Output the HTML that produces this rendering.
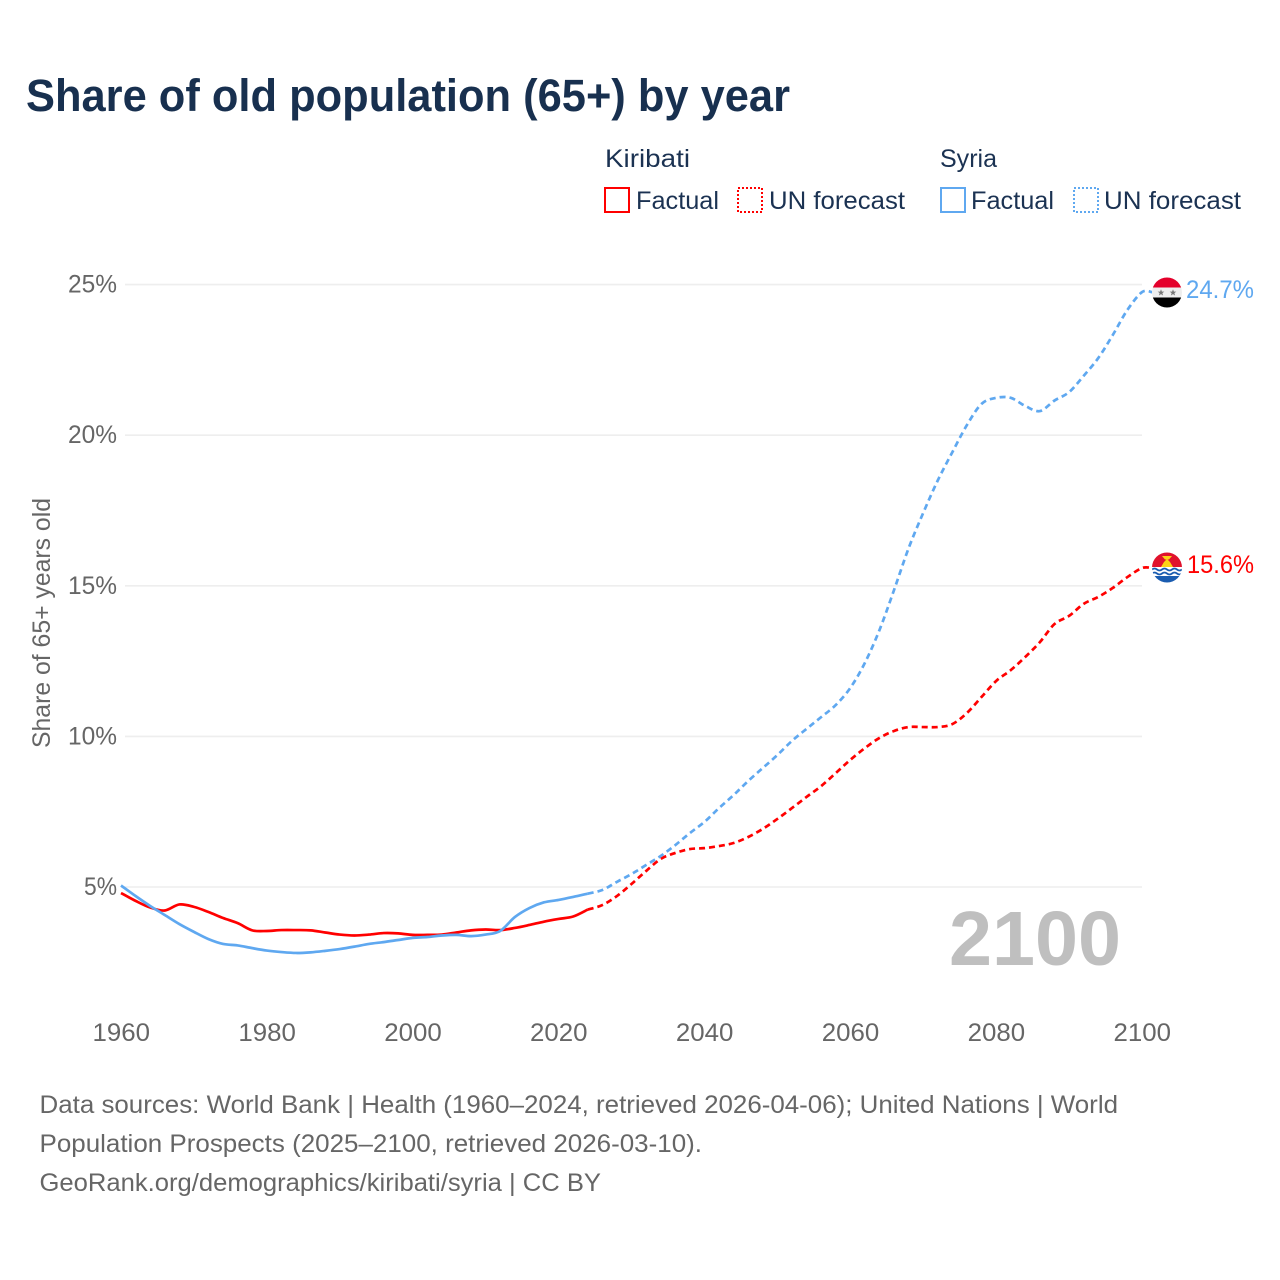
<!DOCTYPE html>
<html lang="en">
<head>
<meta charset="utf-8">
<title>Share of old population (65+) by year</title>
<style>
html,body{margin:0;padding:0;background:#fff;width:1280px;height:1280px;overflow:hidden}
svg{display:block}
text{font-family:"Liberation Sans",sans-serif}
.leg{font-size:25px;fill:#1b3252}
.foot{font-size:25px;fill:#666}
</style>
</head>
<body>
<svg id="chart" width="1280" height="1280" viewBox="0 0 1280 1280" xmlns="http://www.w3.org/2000/svg">
<defs>
<clipPath id="clip-syria"><circle cx="1167" cy="292.5" r="15"/></clipPath>
<clipPath id="clip-kiribati"><circle cx="1167" cy="567.5" r="15"/></clipPath>
</defs>
<text x="26" y="111" font-size="45" font-weight="700" fill="#18304f" textLength="764" lengthAdjust="spacingAndGlyphs">Share of old population (65+) by year</text>

<g>
<text class="leg" x="605" y="167" textLength="85" lengthAdjust="spacingAndGlyphs">Kiribati</text>
<rect x="605" y="188" width="24" height="24" fill="none" stroke="#ff0000" stroke-width="2"/>
<text class="leg" x="636" y="209" textLength="83" lengthAdjust="spacingAndGlyphs">Factual</text>
<rect x="738" y="188" width="24" height="24" fill="none" stroke="#ff0000" stroke-width="2" stroke-dasharray="2 2"/>
<text class="leg" x="769" y="209" textLength="136" lengthAdjust="spacingAndGlyphs">UN forecast</text>
<text class="leg" x="940" y="167" textLength="57" lengthAdjust="spacingAndGlyphs">Syria</text>
<rect x="941" y="188" width="24" height="24" fill="none" stroke="#5fa8f0" stroke-width="2"/>
<text class="leg" x="971" y="209" textLength="83" lengthAdjust="spacingAndGlyphs">Factual</text>
<rect x="1074" y="188" width="24" height="24" fill="none" stroke="#5fa8f0" stroke-width="2" stroke-dasharray="2 2"/>
<text class="leg" x="1104" y="209" textLength="137" lengthAdjust="spacingAndGlyphs">UN forecast</text>
</g>

<text transform="translate(50,748) rotate(-90)" font-size="25" fill="#666" textLength="250" lengthAdjust="spacingAndGlyphs">Share of 65+ years old</text>

<g id="grid"></g>
<g id="yticks"></g>
<g id="xticks"></g>

<text id="year-watermark" x="949" y="965" font-size="77" font-weight="700" fill="#bfbfbf" textLength="172" lengthAdjust="spacingAndGlyphs">2100</text>

<g id="series"></g>

<g clip-path="url(#clip-syria)">
<rect x="1152" y="277.5" width="30" height="10" fill="#e4002b"/>
<rect x="1152" y="287.5" width="30" height="10" fill="#eeeeee"/>
<rect x="1152" y="297.5" width="30" height="10" fill="#000000"/>
<polygon points="1161,289.3 1161.9,291.6 1164.3,291.6 1162.4,293.1 1163.1,295.5 1161,294.1 1158.9,295.5 1159.6,293.1 1157.7,291.6 1160.1,291.6" fill="#777"/>
<polygon points="1173,289.3 1173.9,291.6 1176.3,291.6 1174.4,293.1 1175.1,295.5 1173,294.1 1170.9,295.5 1171.6,293.1 1169.7,291.6 1172.1,291.6" fill="#777"/>
</g>
<g clip-path="url(#clip-kiribati)">
<rect x="1152" y="552.5" width="30" height="15" fill="#e0122c"/>
<polygon points="1161,567 1164,562 1167,559 1170,562 1173,567" fill="#fcd116"/>
<polygon points="1162,556 1172,556 1169,559.5 1165,559.5" fill="#fcd116"/>
<rect x="1152" y="567" width="30" height="16" fill="#ffffff"/>
<path d="M1152 569.5q2.5 -2 5 0t5 0t5 0t5 0t5 0t5 0" fill="none" stroke="#1a5cb0" stroke-width="1.8"/>
<path d="M1152 573.5q2.5 -2 5 0t5 0t5 0t5 0t5 0t5 0" fill="none" stroke="#1a5cb0" stroke-width="1.8"/>
<rect x="1152" y="576" width="30" height="7" fill="#1a5cb0"/>
</g>
<text id="end-label-syria" x="1186" y="298" font-size="25" fill="#5fa8f0" textLength="68" lengthAdjust="spacingAndGlyphs">24.7%</text>
<text id="end-label-kiribati" x="1187" y="573" font-size="25" fill="#ff0000" textLength="67" lengthAdjust="spacingAndGlyphs">15.6%</text>

<g>
<text class="foot" x="39.5" y="1113" textLength="1078.5" lengthAdjust="spacingAndGlyphs">Data sources: World Bank | Health (1960–2024, retrieved 2026-04-06); United Nations | World</text>
<text class="foot" x="39.5" y="1152" textLength="662.5" lengthAdjust="spacingAndGlyphs">Population Prospects (2025–2100, retrieved 2026-03-10).</text>
<text class="foot" x="39.5" y="1191" textLength="561.5" lengthAdjust="spacingAndGlyphs">GeoRank.org/demographics/kiribati/syria | CC BY</text>
</g>
</svg>
<script>
const years = [1960,1962,1964,1966,1968,1970,1972,1974,1976,1978,1980,1982,1984,1986,1988,1990,1992,1994,1996,1998,2000,2002,2004,2006,2008,2010,2012,2014,2016,2018,2020,2022,2024,2026,2028,2030,2032,2034,2036,2038,2040,2042,2044,2046,2048,2050,2052,2054,2056,2058,2060,2062,2064,2066,2068,2070,2072,2074,2076,2078,2080,2082,2084,2086,2088,2090,2092,2094,2096,2098,2100];
const kiribatiValues = [4.80,4.54,4.32,4.22,4.42,4.34,4.17,3.97,3.80,3.56,3.54,3.57,3.57,3.56,3.49,3.42,3.39,3.42,3.47,3.46,3.41,3.41,3.42,3.49,3.56,3.59,3.57,3.64,3.74,3.85,3.94,4.02,4.25,4.40,4.70,5.10,5.53,5.93,6.13,6.26,6.29,6.36,6.46,6.66,6.93,7.26,7.62,7.99,8.35,8.78,9.22,9.61,9.95,10.18,10.31,10.31,10.31,10.41,10.78,11.31,11.84,12.20,12.64,13.13,13.73,14.00,14.40,14.63,14.93,15.29,15.59];
const syriaValues = [5.05,4.70,4.37,4.07,3.77,3.51,3.27,3.11,3.06,2.97,2.89,2.84,2.81,2.83,2.88,2.94,3.02,3.11,3.17,3.24,3.31,3.34,3.39,3.41,3.37,3.42,3.54,4.00,4.30,4.49,4.57,4.67,4.78,4.90,5.17,5.43,5.73,6.03,6.39,6.79,7.16,7.62,8.05,8.52,8.95,9.38,9.85,10.25,10.64,11.04,11.61,12.44,13.53,14.86,16.25,17.42,18.50,19.44,20.34,21.04,21.24,21.24,20.97,20.80,21.15,21.43,21.97,22.56,23.33,24.16,24.75];
const lastFactualYear = 2024;
const yTickValues = [5,10,15,20,25];
const xTickValues = [1960,1980,2000,2020,2040,2060,2080,2100];

const NS = 'http://www.w3.org/2000/svg';
function xScale(year){ return 121 + (year - 1960) * (1142 - 121) / 140; }
function yScale(v){ return 887 - (v - 5) * 30.12; }
function make(tag, parent){
  const el = document.createElementNS(NS, tag);
  parent.appendChild(el);
  return el;
}
const gridG = document.getElementById('grid');
const yG = document.getElementById('yticks');
const xG = document.getElementById('xticks');
const seriesG = document.getElementById('series');

yTickValues.forEach(function(v){
  const line = make('line', gridG);
  
  
  line.setAttribute('x1', 125);
  line.setAttribute('x2', 1142);
  line.setAttribute('y1', yScale(v));
  line.setAttribute('y2', yScale(v));
  line.setAttribute('stroke', '#eeeeee');
  line.setAttribute('stroke-width', '1.6');
  const t = make('text', yG);
  
  
  const w = v < 10 ? 33 : 49;
  t.setAttribute('x', 117 - w);
  t.setAttribute('y', yScale(v) + 8);
  t.setAttribute('font-size', '25');
  t.setAttribute('fill', '#666');
  t.setAttribute('textLength', w);
  t.setAttribute('lengthAdjust', 'spacingAndGlyphs');
  t.textContent = v + '%';
});

xTickValues.forEach(function(y){
  const t = make('text', xG);
  
  
  t.setAttribute('x', xScale(y) - 28.5);
  t.setAttribute('y', 1041);
  t.setAttribute('font-size', '25');
  t.setAttribute('fill', '#666');
  t.setAttribute('textLength', 57.5);
  t.setAttribute('lengthAdjust', 'spacingAndGlyphs');
  t.textContent = y;
});

function smoothPath(values, keep, tail){
  const pts = [];
  years.forEach(function(y, i){
    if (keep(y)) pts.push([xScale(y), yScale(values[i])]);
  });
  if (tail) pts.push([xScale(2100) + 10, yScale(values[values.length - 1])]);
  let d = 'M' + pts[0][0].toFixed(2) + ' ' + pts[0][1].toFixed(2);
  for (let i = 0; i < pts.length - 1; i++) {
    const p0 = pts[Math.max(i - 1, 0)];
    const p1 = pts[i];
    const p2 = pts[i + 1];
    const p3 = pts[Math.min(i + 2, pts.length - 1)];
    const c1x = p1[0] + (p2[0] - p0[0]) / 6;
    const c1y = p1[1] + (p2[1] - p0[1]) / 6;
    const c2x = p2[0] - (p3[0] - p1[0]) / 6;
    const c2y = p2[1] - (p3[1] - p1[1]) / 6;
    d += 'C' + c1x.toFixed(2) + ' ' + c1y.toFixed(2) + ' ' + c2x.toFixed(2) + ' ' + c2y.toFixed(2) + ' ' + p2[0].toFixed(2) + ' ' + p2[1].toFixed(2);
  }
  return d;
}
function drawForecast(values, color){
  const line = make('path', seriesG);
  
  
  line.setAttribute('d', smoothPath(values, function(y){ return y >= lastFactualYear; }, true));
  line.setAttribute('fill', 'none');
  line.setAttribute('stroke', color);
  line.setAttribute('stroke-width', '2.7');
  line.setAttribute('stroke-dasharray', '6 4');
}
function drawFactual(values, color){
  const line = make('path', seriesG);
  
  
  line.setAttribute('d', smoothPath(values, function(y){ return y <= lastFactualYear; }, false));
  line.setAttribute('fill', 'none');
  line.setAttribute('stroke', color);
  line.setAttribute('stroke-width', '2.7');
}
drawForecast(kiribatiValues, '#ff0000');
drawForecast(syriaValues, '#5fa8f0');
drawFactual(kiribatiValues, '#ff0000');
drawFactual(syriaValues, '#5fa8f0');
</script>
</body>
</html>
